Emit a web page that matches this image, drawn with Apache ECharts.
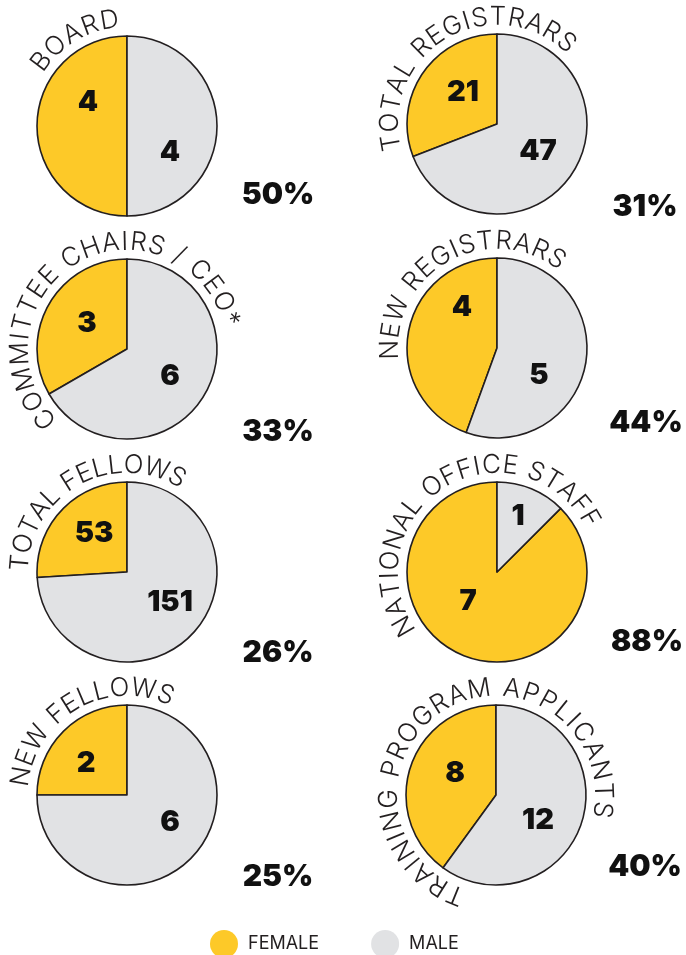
<!DOCTYPE html>
<html><head><meta charset="utf-8">
<script src="https://cdn.jsdelivr.net/npm/echarts/dist/echarts.min.js"></script>
<style>html,body{margin:0;padding:0;background:#fff}#c{width:686px;height:955px}</style>
</head><body><div id="c"></div>
<script>
// ---- data ----
const titles = ['BOARD', 'TOTAL REGISTRARS', 'COMMITTEE CHAIRS / CEO*', 'NEW REGISTRARS',
  'TOTAL FELLOWS', 'NATIONAL OFFICE STAFF', 'NEW FELLOWS', 'TRAINING PROGRAM APPLICANTS'];
const female = [4, 21, 3, 4, 53, 7, 2, 8];
const male = [4, 47, 6, 5, 151, 1, 6, 12];
const legendNames = ['FEMALE', 'MALE'];

// ---- layout / style ----
const centers = [[127,126],[497,124],[127,349],[497,348],[127,572],[497,572],[127,795],[496,795]];
const radius = 90;
// label offsets from pie centre: [female, male]
const labelOffsets = [
  [[-39,-24],[43,26]], [[-34,-32],[41,27]], [[-40,-26],[43,27]], [[-35,-41],[42,27]],
  [[-33,-39],[43,30]], [[-29,29],[21,-56]], [[-41,-32],[43,27]], [[-41,-22],[42,25]]
];
const pctPos = [[278,195],[645,207],[278,432],[646,423],[278,653],[647,642],[278,877],[645,867]];
// title arc: first & last glyph centre angles (deg, clockwise from top)
const titleArcs = [[-53,-9.4],[-100,40.4],[-130.4,73.7],[-91,33.7],[-85,27.8],[-120,60],[-80,21],[-157.9,97.9]];
const titleR = 107;
const titleFont = '300 26px Inter';
const YELLOW = '#FDC928', GREY = '#E1E2E4', INK = '#231F20';

const chart = echarts.init(document.getElementById('c'), null, {renderer: 'canvas'});
const mctx = document.createElement('canvas').getContext('2d');

function arcText(str, cx, cy, R, a1, a2, font) {
  mctx.font = font;
  const chars = Array.from(str);
  const w = chars.map(c => mctx.measureText(c).width);
  let base = 0;
  for (let i = 0; i < chars.length - 1; i++) base += (w[i] + w[i+1]) / 2;
  const arcLen = R * (a2 - a1) * Math.PI / 180;
  const ls = (arcLen - base) / (chars.length - 1);
  let s = 0; const els = [];
  chars.forEach((c, i) => {
    if (i > 0) s += (w[i-1] + w[i]) / 2 + ls;
    const phi = a1 * Math.PI / 180 + s / R;
    if (c === ' ') return;
    els.push({type: 'text', silent: true, x: cx + R * Math.sin(phi), y: cy - R * Math.cos(phi),
      rotation: -phi,
      style: {text: c, font: font, fill: '#231F20', align: 'center', verticalAlign: 'middle'}});
  });
  return els;
}

const series = [];
const graphics = [];
titles.forEach((t, i) => {
  const c = centers[i];
  const offs = labelOffsets[i];
  series.push({
    type: 'pie', name: t, center: c, radius: radius, startAngle: 90, clockwise: false,
    silent: true, animation: false,
    itemStyle: {borderColor: INK, borderWidth: 1.6},
    label: {show: true, position: 'inside', formatter: '{c}', color: '#111',
      fontFamily: 'Inter', fontWeight: 900, fontSize: 29},
    labelLine: {show: false},
    labelLayout: function (p) {
      const o = offs[p.dataIndex];
      return {x: c[0] + o[0], y: c[1] + o[1], align: 'center', verticalAlign: 'middle'};
    },
    data: [{name: legendNames[0], value: female[i]}, {name: legendNames[1], value: male[i]}]
  });
  graphics.push(...arcText(t, c[0], c[1], titleR, titleArcs[i][0], titleArcs[i][1], titleFont));
  const pct = Math.round(female[i] / (female[i] + male[i]) * 100) + '%';
  graphics.push({type: 'text', silent: true, x: pctPos[i][0], y: pctPos[i][1],
    style: {text: pct, font: '900 30px Inter', fill: '#111', align: 'center', verticalAlign: 'middle'}});
});

chart.setOption({
  animation: false,
  color: [YELLOW, GREY],
  legend: {
    data: legendNames, left: 210, top: 930, padding: 0, itemGap: 52,
    icon: 'circle', itemWidth: 38, itemHeight: 28, selectedMode: false,
    itemStyle: {borderWidth: 0},
    textStyle: {fontFamily: 'Inter', fontWeight: 400, fontSize: 18, color: '#231F20'}
  },
  series: series,
  graphic: graphics
});
</script></body></html>
